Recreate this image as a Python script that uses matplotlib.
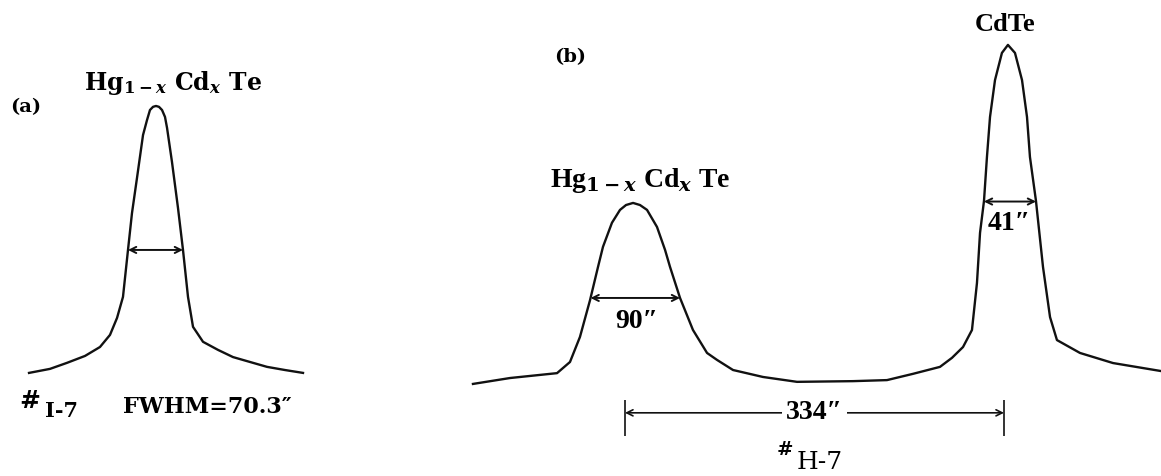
import numpy as np
import matplotlib
matplotlib.use("Agg")
import matplotlib.pyplot as plt

# (a) double-crystal rocking curve of the Hg1-xCdxTe layer, sample I-7
a_angle = [-162.3, -135.5, -113.7, -90.7, -71.6, -58.8, -49.8, -42.2, -35.8, -30.7,
           -24.3, -16.6, -11.5, -7.7, -3.8, 0.0, 3.8, 7.7, 11.5, 14.1, 20.4, 28.1,
           34.5, 40.9, 47.3, 60.1, 79.2, 98.4, 120.1, 141.9, 164.9, 187.9]
a_counts = [0.073, 0.087, 0.108, 0.132, 0.163, 0.205, 0.264, 0.337, 0.500, 0.628,
            0.750, 0.899, 0.951, 0.986, 0.997, 1.000, 0.997, 0.986, 0.962, 0.924,
            0.806, 0.646, 0.500, 0.337, 0.233, 0.181, 0.153, 0.128, 0.111, 0.094,
            0.083, 0.073]
a_fwhm = 70.3

# (b) sample H-7: Hg1-xCdxTe epilayer peak and CdTe substrate peak
b_angle = [-134.0, -101.3, -59.9, -48.5, -39.7, -30.8, -23.8, -19.4, -11.5, -4.4,
           0.9, 7.1, 13.2, 19.4, 28.2, 35.3, 39.7, 48.5, 59.9, 72.3, 81.1, 95.2,
           121.6, 151.6, 200.9, 230.9, 253.8, 277.6, 288.2, 297.9, 305.8, 310.2,
           312.9, 316.4, 319.0, 321.7, 326.1, 332.2, 337.5, 343.7, 349.9, 354.3,
           356.9, 362.2, 368.4, 374.6, 380.7, 401.0, 430.1, 472.4]
b_counts = [0.026, 0.043, 0.057, 0.089, 0.161, 0.267, 0.362, 0.420, 0.489, 0.526,
            0.540, 0.546, 0.540, 0.526, 0.477, 0.411, 0.362, 0.273, 0.181, 0.115,
            0.095, 0.066, 0.046, 0.032, 0.034, 0.037, 0.055, 0.075, 0.101, 0.132,
            0.181, 0.316, 0.460, 0.552, 0.678, 0.793, 0.899, 0.977, 1.000, 0.977,
            0.899, 0.793, 0.678, 0.552, 0.362, 0.218, 0.152, 0.115, 0.086, 0.063]
b_peaks = [0, 334]          # HgCdTe, CdTe peak positions (arcsec)
b_fwhm = [90, 41]
b_background = [0.0, 0.10]

plt.rcParams["mathtext.fontset"] = "custom"
plt.rcParams["mathtext.rm"] = "DejaVu Serif:bold"
plt.rcParams["mathtext.it"] = "DejaVu Serif:italic:bold"
plt.rcParams["mathtext.bf"] = "DejaVu Serif:bold"
WIDE = ["DejaVu Serif"]
TIMES = ["Liberation Serif", "DejaVu Serif"]
INK = "#111111"


def half_width(x, y, level, peak_x):
    # walk out from the peak and interpolate where the curve drops below level
    x = np.asarray(x, float)
    y = np.asarray(y, float)
    i = int(np.argmin(np.abs(x - peak_x) - 1e3 * (y > level)))
    j = i
    while y[j - 1] >= level:
        j -= 1
    left = np.interp(level, [y[j - 1], y[j]], [x[j - 1], x[j]])
    k = i
    while y[k + 1] >= level:
        k += 1
    right = np.interp(level, [y[k + 1], y[k]], [x[k + 1], x[k]])
    return left, right


def width_arrow(ax, x, y, level, peak_x):
    left, right = half_width(x, y, level, peak_x)
    ax.annotate("", xy=(left, level), xytext=(right, level),
                arrowprops=dict(arrowstyle="<->", lw=1.4, color=INK,
                                mutation_scale=11, shrinkA=0, shrinkB=0))


fig = plt.figure(figsize=(11.61, 4.76), dpi=100)
ax_a = fig.add_axes([0, 0, 330 / 1161, 1])
ax_b = fig.add_axes([330 / 1161, 0, 831 / 1161, 1])
for ax in (ax_a, ax_b):
    ax.axis("off")
ax_a.set_xlim(-199.4, 222.4)
ax_a.set_ylim(-0.285, 1.368)
ax_b.set_xlim(-260.0, 472.4)
ax_b.set_ylim(-0.2385, 1.129)

# panel (a)
ax_a.plot(a_angle, a_counts, color=INK, lw=1.7, solid_joinstyle="round")
width_arrow(ax_a, a_angle, a_counts, 0.5 * max(a_counts), 0)
ax_a.text(-167, 0.997, "(a)", fontsize=14, fontweight="bold", family=WIDE,
          ha="center", va="center")
ax_a.text(22, 1.056, r"Hg$_{\mathit{1-x}}$ Cd$_{\mathit{x}}$ Te", fontsize=17,
          fontweight="bold", family=WIDE, ha="center", va="baseline")
ax_a.text(-161, -0.049, "#", fontsize=18, fontweight="bold", family=WIDE,
          ha="center", va="baseline")
ax_a.text(-121, -0.080, "I-7", fontsize=15, fontweight="bold", family=WIDE,
          ha="center", va="baseline")
ax_a.text(66, -0.066, "FWHM=%.1f\u2033" % a_fwhm, fontsize=16, fontweight="bold",
          family=WIDE, ha="center", va="baseline")

# panel (b)
ax_b.plot(b_angle, b_counts, color=INK, lw=1.7, solid_joinstyle="round")
for pk, bg in zip(b_peaks, b_background):
    near = np.abs(np.asarray(b_angle) - pk) < 60
    top = max(np.asarray(b_counts)[near])
    width_arrow(ax_b, b_angle, b_counts, 0.5 * (top + bg), pk)

ax_b.text(-48.5, 0.966, "(b)", fontsize=14, fontweight="bold", family=WIDE,
          ha="center", va="center")
ax_b.text(13, 0.592, r"Hg$_{\mathit{1-x}}$ Cd$_{\mathit{x}}$ Te", fontsize=20,
          fontweight="bold", family=TIMES, ha="center", va="baseline")
ax_b.text(335, 1.040, "CdTe", fontsize=19, fontweight="bold", family=TIMES,
          ha="center", va="baseline")
ax_b.text(10, 0.187, "%d\u2033" % b_fwhm[0], fontsize=20, fontweight="bold",
          family=TIMES, ha="center", va="baseline")
ax_b.text(339, 0.468, "%d\u2033" % b_fwhm[1], fontsize=20, fontweight="bold",
          family=TIMES, ha="center", va="baseline")

# peak separation
sep_y = -0.057
ax_b.vlines(b_peaks, -0.125, -0.02, color=INK, lw=1.2)
ax_b.annotate("", xy=(b_peaks[0], sep_y), xytext=(b_peaks[1], sep_y),
              arrowprops=dict(arrowstyle="<->", lw=1.2, color=INK,
                              mutation_scale=11, shrinkA=0, shrinkB=0))
ax_b.text(np.mean(b_peaks), sep_y, "%d\u2033" % (b_peaks[1] - b_peaks[0]),
          fontsize=20, fontweight="bold", family=TIMES, ha="center",
          va="center", bbox=dict(facecolor="white", edgecolor="none", pad=3))
ax_b.text(141, -0.178, "#", fontsize=14, fontweight="bold", family=WIDE,
          ha="center", va="baseline")
ax_b.text(172, -0.218, "H-7", fontsize=18, family=WIDE,
          ha="center", va="baseline")

fig.savefig("out.png", dpi=100, facecolor="white")
